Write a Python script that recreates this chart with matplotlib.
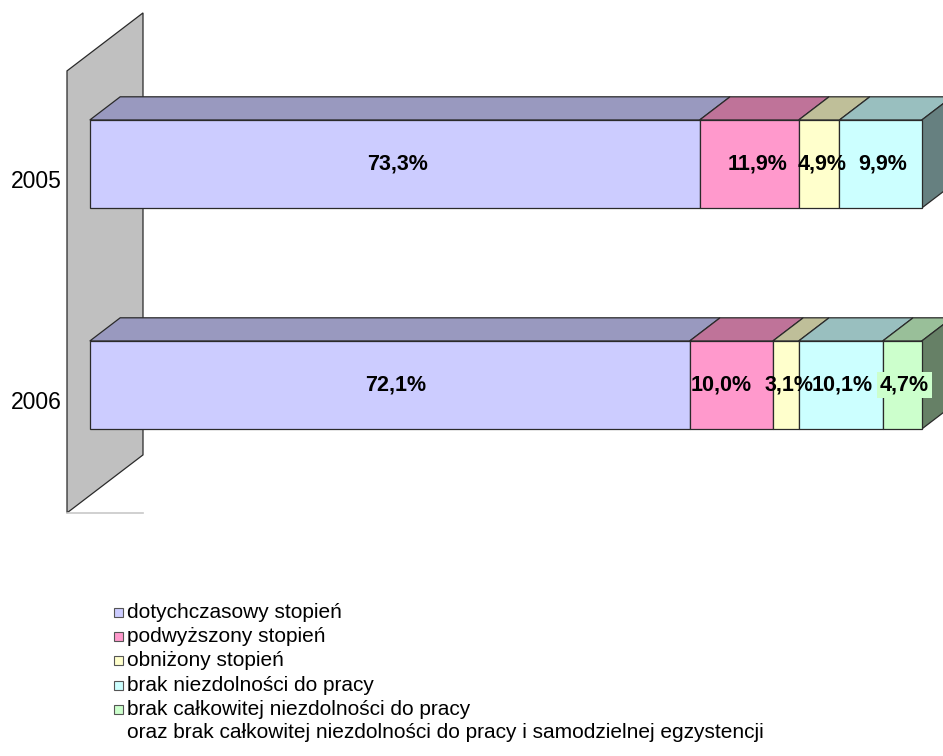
import numpy as np
import matplotlib
matplotlib.use("Agg")
import matplotlib.pyplot as plt
from matplotlib.patches import Polygon, Rectangle

plt.rcParams['font.family'] = ['Liberation Sans', 'DejaVu Sans']

# ---- data -------------------------------------------------------------
years = ['2005', '2006']
series_names = [
    'dotychczasowy stopień',
    'podwyższony stopień',
    'obniżony stopień',
    'brak niezdolności do pracy',
    'brak całkowitej niezdolności do pracy\n'
    'oraz brak całkowitej niezdolności do pracy i samodzielnej egzystencji',
]
values_2005 = [73.3, 11.9, 4.9, 9.9, 0.0]
values_2006 = [72.1, 10.0, 3.1, 10.1, 4.7]
values = [values_2005, values_2006]

front_colors = ['#CCCCFF', '#FF99CC', '#FFFFCC', '#CCFFFF', '#CCFFCC']

# horizontal nudges (pixels) for the value labels, per bar
label_nudge = [[3, 8, 3, 2, 0], [6, -10, 3, 2, 2]]

# ---- figure / oblique projection setup ---------------------------------
W, H = 943, 756
fig = plt.figure(figsize=(W / 100, H / 100), dpi=100)
ax = fig.add_axes([0, 0, 1, 1])
PX_PER_PCT = 8.32
PX_PER_CAT = 221.0
ax.set_xlim(-67 / PX_PER_PCT, (W - 67) / PX_PER_PCT)
ax.set_ylim(-353.6 / PX_PER_CAT, (H - 353.6) / PX_PER_CAT)
ax.axis('off')

DX = 76 / PX_PER_PCT      # full depth, horizontal component (data units)
DY = 58 / PX_PER_CAT      # full depth, vertical component (data units)
Z_FRONT, Z_BACK = 0.3, 0.7
BAR_H = 88 / PX_PER_CAT


def proj(x, y, z):
    return (x + z * DX, y + z * DY)


def shade(c, f):
    r, g, b = matplotlib.colors.to_rgb(c)
    return (r * f, g * f, b * f)


EDGE = '#2a2a2a'
LW = 0.9

# back wall
wall = [proj(0, -0.5, 0), proj(0, 1.5, 0), proj(0, 1.5, 1), proj(0, -0.5, 1)]
ax.add_patch(Polygon(wall, closed=True, facecolor='#C0C0C0', edgecolor=EDGE, lw=LW, zorder=1))
# value axis line along the floor
x0, y0 = proj(0, -0.5, 0)
x1, _ = proj(0, -0.5, 1)
ax.plot([x0, x1], [y0, y0], color='#C8C8C8', lw=1.2, zorder=1)

ypos = [1, 0]
label_boxes = {(1, 4)}

for yi, (yc, vals) in enumerate(zip(ypos, values)):
    ybot, ytop = yc - BAR_H / 2, yc + BAR_H / 2
    left = 0.0
    segs = []
    for si, v in enumerate(vals):
        if v > 0:
            segs.append((si, left, left + v))
        left += v
    # top faces
    for si, a, b in segs:
        top = [proj(a, ytop, Z_FRONT), proj(b, ytop, Z_FRONT),
               proj(b, ytop, Z_BACK), proj(a, ytop, Z_BACK)]
        ax.add_patch(Polygon(top, closed=True, facecolor=shade(front_colors[si], 0.75),
                             edgecolor=EDGE, lw=LW, zorder=2))
    # front faces
    for si, a, b in segs:
        front = [proj(a, ybot, Z_FRONT), proj(b, ybot, Z_FRONT),
                 proj(b, ytop, Z_FRONT), proj(a, ytop, Z_FRONT)]
        ax.add_patch(Polygon(front, closed=True, facecolor=front_colors[si],
                             edgecolor=EDGE, lw=LW, zorder=3))
    # right side of the last segment
    si, a, b = segs[-1]
    side = [proj(b, ybot, Z_FRONT), proj(b, ytop, Z_FRONT),
            proj(b, ytop, Z_BACK), proj(b, ybot, Z_BACK)]
    ax.add_patch(Polygon(side, closed=True, facecolor=shade(front_colors[si], 0.5),
                         edgecolor=EDGE, lw=LW, zorder=2))
    # value labels
    for si, a, b in segs:
        x, y = proj((a + b) / 2, yc, Z_FRONT)
        txt = f"{vals[si]:.1f}%".replace('.', ',')
        kw = {}
        if (yi, si) in label_boxes:
            kw['bbox'] = dict(facecolor=front_colors[si], edgecolor='none', pad=2)
        ax.annotate(txt, (x, y), xytext=(label_nudge[yi][si], 0), textcoords='offset pixels',
                    ha='center', va='center', fontsize=15.5, fontweight='bold',
                    color='black', zorder=5, **kw)
    # category label
    ax.annotate(years[yi], (0, yc), xytext=(-5, 0), textcoords='offset pixels',
                ha='right', va='center', fontsize=16.5, color='black', zorder=5)

# ---- legend -----------------------------------------------------------
mk_x = 114
mk_size = 9
first_bottom = 617
line_step = 24.2
text_x = mk_x + 13
for i, name in enumerate(series_names):
    bottom = first_bottom + i * line_step
    fig.patches.append(Rectangle((mk_x / W, 1 - bottom / H), mk_size / W, mk_size / H,
                                 transform=fig.transFigure,
                                 facecolor=front_colors[i], edgecolor='#555555', lw=0.8))
    for j, line in enumerate(name.split('\n')):
        fig.text(text_x / W, 1 - (bottom + 1 + j * (line_step - 1)) / H, line,
                 ha='left', va='baseline', fontsize=15, color='black')

fig.savefig('out.png', dpi=100)
